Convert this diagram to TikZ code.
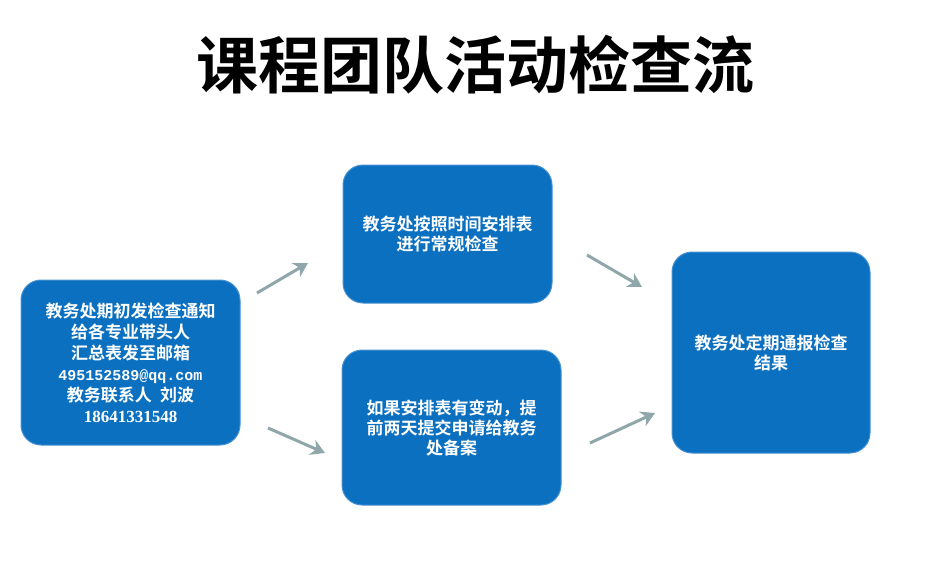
\documentclass[tikz,border=0pt]{standalone}
\usepackage{fontspec}
\setmainfont{Noto Sans CJK SC}[BoldFont={Noto Sans CJK SC Bold}]
\newfontfamily\mailfont{Liberation Mono}[BoldFont={Liberation Mono Bold}]
\newfontfamily\numfont{Liberation Serif}[BoldFont={Liberation Serif Bold}]
\usetikzlibrary{arrows.meta}
\definecolor{boxblue}{RGB}{12,112,192}
\definecolor{boxedge}{RGB}{70,145,210}
\definecolor{arrowgray}{RGB}{143,166,170}

\tikzset{
  box/.style={draw=boxedge, line width=1pt, fill=boxblue, rounded corners=20pt,
    text=white, align=center, inner sep=0pt,
    font=\fontsize{17}{20}\selectfont\bfseries},
  flow/.style={-{Stealth[length=14pt,width=16pt]}, line width=3pt, draw=arrowgray}
}

\begin{document}
\begin{tikzpicture}[x=1pt,y=-1pt]
\useasboundingbox (0,0) rectangle (940,587);
\node (title) at (475,65) {\fontsize{62}{62}\selectfont\bfseries 课程团队活动检查流};
\node [box, minimum width=219pt, minimum height=165pt,
       font=\fontsize{17}{21}\selectfont\bfseries] (notice) at (130.5,362.5)
  {教务处期初发检查通知\\给各专业带头人\\汇总表发至邮箱\\
   {\mailfont\bfseries\fontsize{15}{21}\selectfont 495152589@qq.com}\\
   教务联系人\enspace 刘波\\{\numfont\bfseries 18641331548}};
\node [box, minimum width=209pt, minimum height=138pt] (check) at (447.5,234)
  {教务处按照时间安排表\\进行常规检查};
\node [box, minimum width=219pt, minimum height=155pt] (change) at (451.5,427.5)
  {如果安排表有变动，提\\前两天提交申请给教务\\处备案};
\node [box, minimum width=198pt, minimum height=201pt] (report) at (771,352.5)
  {教务处定期通报检查\\结果};
% arrows
\coordinate (a1s) at (257,293);  \coordinate (a1e) at (308,263);
\coordinate (a2s) at (268,428);  \coordinate (a2e) at (325,453);
\coordinate (a3s) at (587,255);  \coordinate (a3e) at (642,287);
\coordinate (a4s) at (590,443);  \coordinate (a4e) at (655,413);
\draw [flow] (a1s) -- (a1e);
\draw [flow] (a2s) -- (a2e);
\draw [flow] (a3s) -- (a3e);
\draw [flow] (a4s) -- (a4e);
\end{tikzpicture}
\end{document}
